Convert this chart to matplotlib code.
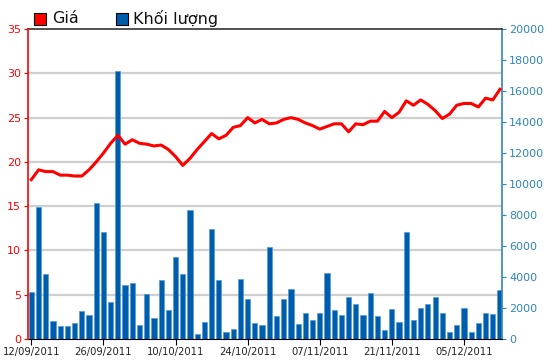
import matplotlib
matplotlib.use("Agg")
import matplotlib.pyplot as plt
from matplotlib.patches import Rectangle

# Price (left axis) and traded volume (right axis), one value per trading day
price = [18.0, 19.1, 18.9, 18.9, 18.5, 18.5, 18.4, 18.4, 19.1, 20.0,
         21.0, 22.1, 23.0, 22.0, 22.5, 22.1, 22.0, 21.8, 21.9, 21.4,
         20.6, 19.6, 20.4, 21.4, 22.3, 23.2, 22.6, 23.0, 23.9, 24.1,
         25.0, 24.4, 24.8, 24.3, 24.4, 24.8, 25.0, 24.8, 24.4, 24.1,
         23.7, 24.0, 24.3, 24.3, 23.4, 24.3, 24.2, 24.6, 24.6, 25.7,
         25.0, 25.6, 26.9, 26.4, 27.0, 26.5, 25.8, 24.9, 25.4, 26.4,
         26.6, 26.6, 26.2, 27.2, 27.0, 28.2]
volume = [3000, 8490, 4180, 1140, 840, 840, 1050, 1780, 1540, 8790,
          6900, 2400, 17300, 3450, 3600, 880, 2890, 1330, 3770, 1860,
          5270, 4160, 8290, 340, 1110, 7120, 3770, 470, 620, 3860,
          2550, 1030, 900, 5910, 1460, 2550, 3210, 960, 1690, 1200,
          1690, 4240, 1840, 1540, 2720, 2230, 1540, 2960, 1460, 580,
          1930, 1110, 6880, 1200, 2010, 2230, 2720, 1690, 430, 900,
          2010, 430, 1050, 1690, 1610, 3130]
date_labels = ["12/09/2011", "26/09/2011", "10/10/2011", "24/10/2011",
               "07/11/2011", "21/11/2011", "05/12/2011"]
price_ticks = [0, 5, 10, 15, 20, 25, 30, 35]
volume_ticks = [0, 2000, 4000, 6000, 8000, 10000, 12000, 14000, 16000, 18000, 20000]

RED = "#FF0000"
BLUE = "#005DAB"
AXBLUE = "#2F86B8"

fig = plt.figure(figsize=(5.5, 3.64), dpi=100)
ax2 = fig.add_axes([0.051, 0.069, 0.862, 0.851])
ax = ax2.twinx()
ax.set_zorder(ax2.get_zorder() + 1)
ax.patch.set_visible(False)

x = list(range(len(price)))
ymax_p = 35
ymax_v = 20000

# gridlines follow the left (price) ticks, drawn behind the bars
for t in price_ticks[1:-1]:
    ax2.axhline(t * ymax_v / ymax_p, color="#CFCFCF", lw=1.6, zorder=0)

ax2.bar(x, volume, width=0.72, color=BLUE, edgecolor="#4F9BDD", linewidth=0.5, zorder=2)
ax.plot(x, price, color=RED, lw=2.2, solid_joinstyle="round", zorder=3)

ax2.set_xlim(-0.46, 65.3)
ax2.set_ylim(0, ymax_v)
ax.set_ylim(0, ymax_p)

# right axis on ax2, left axis on ax
ax2.yaxis.tick_right()
ax2.yaxis.set_label_position("right")
ax.yaxis.tick_left()
ax2.set_yticks(volume_ticks)
ax2.set_yticklabels([str(v) for v in volume_ticks], fontsize=8, color=AXBLUE)
ax2.tick_params(axis="y", colors=AXBLUE, length=3, pad=2, labelsize=8)
ax.set_yticks(price_ticks)
ax.set_yticklabels([str(v) for v in price_ticks], fontsize=8, color=RED)
ax.tick_params(axis="y", colors=RED, length=3, pad=2)

ax2.set_xticks(list(range(0, len(price), 10)))
ax2.set_xticklabels(date_labels, fontsize=7.2, color="#222222")
ax2.tick_params(axis="x", length=4, color="black", pad=1.5)
ax.tick_params(axis="x", bottom=False, labelbottom=False)

for a in (ax, ax2):
    for s in a.spines.values():
        s.set_visible(False)
ax.spines["left"].set_visible(True)
ax.spines["left"].set_color(RED)
ax.spines["left"].set_linewidth(1.2)
ax2.spines["right"].set_visible(True)
ax2.spines["right"].set_color(AXBLUE)
ax2.spines["right"].set_linewidth(1.2)
ax2.spines["bottom"].set_visible(True)
ax2.spines["bottom"].set_color("black")
ax2.spines["top"].set_visible(True)
ax2.spines["top"].set_color("#333333")
ax2.spines["top"].set_linewidth(1.2)

# legend at the top
fig.patches.append(Rectangle((0.062, 0.931), 0.021, 0.033, transform=fig.transFigure,
                             facecolor=RED, edgecolor="black", lw=0.8))
fig.text(0.094, 0.948, "Giá", fontsize=11.5, va="center", ha="left", color="#111111")
fig.patches.append(Rectangle((0.211, 0.931), 0.021, 0.033, transform=fig.transFigure,
                             facecolor=BLUE, edgecolor="black", lw=0.8))
fig.text(0.242, 0.948, "Khối lượng", fontsize=11.5, va="center", ha="left", color="#111111")

fig.savefig("out.png", dpi=100)
